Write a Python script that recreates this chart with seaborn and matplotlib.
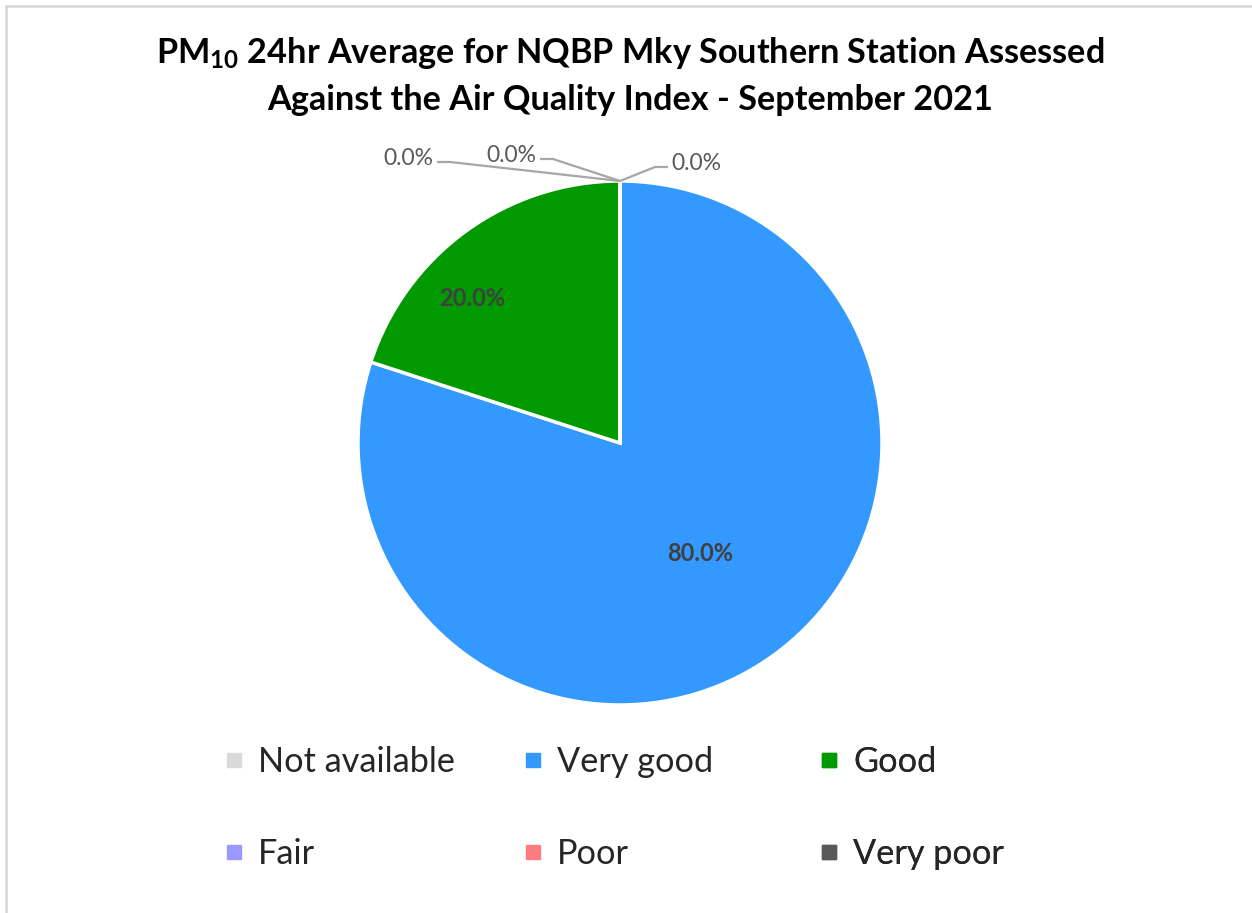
import matplotlib
matplotlib.use("Agg")
import matplotlib.pyplot as plt
from matplotlib.lines import Line2D
from matplotlib.patches import Rectangle
import numpy as np
import seaborn as sns

categories = ["Not available", "Very good", "Good", "Fair", "Poor", "Very poor"]
shares = [0.0, 80.0, 20.0, 0.0, 0.0, 0.0]
colours = ["#D9D9D9", "#3399FF", "#009900", "#9999FF", "#FF7C80", "#595959"]
title = "PM$_\\mathbf{10}$ 24hr Average for NQBP Mky Southern Station Assessed\nAgainst the Air Quality Index - September 2021"

sns.set_style("white")
plt.rcParams["font.family"] = ["Lato", "DejaVu Sans"]
plt.rcParams["mathtext.fontset"] = "custom"
plt.rcParams["mathtext.bf"] = "Lato:bold"
plt.rcParams["mathtext.rm"] = "Lato"

W, H = 1252, 913
fig = plt.figure(figsize=(W / 100, H / 100), dpi=100)
ax = fig.add_axes([0, 0, 1, 1])

cx, cy, r = 620, H - 443, 262
wedges, _ = ax.pie(shares, colors=colours, startangle=90, counterclock=False,
                   center=(cx, cy), radius=r,
                   wedgeprops=dict(edgecolor="white", linewidth=2.5))
ax.set_xlim(0, W)
ax.set_ylim(0, H)
ax.set_aspect("equal")
ax.axis("off")

# chart border
fig.patches.append(Rectangle((6 / W, -0.1), 1.2, 1.1 - 6 / H,
                             transform=fig.transFigure, fill=False,
                             edgecolor="#D9D9D9", linewidth=2))

ax.text(630, H - 75, title, ha="center", va="center", fontsize=24.7,
        fontweight="bold", linespacing=1.5, color="black")

# big labels
def polar(angle, dist):
    a = np.deg2rad(angle)
    return cx + dist * r * np.cos(a), cy + dist * r * np.sin(a)

big = {1: (None, 0.52), 2: (135.6, 0.79)}
for i, (ang, dist) in big.items():
    w = wedges[i]
    if ang is None:
        ang = (w.theta1 + w.theta2) / 2
    x, y = polar(ang, dist)
    ax.text(x, y, f"{shares[i]:.1f}%", ha="center", va="center", fontsize=17,
            fontweight="bold", color="#404040")

# zero labels with leader lines: (category index, corner offset, text side)
top = (cx, cy + r)
zero = [(0, (35, 14), "left"), (3, (-67, 22), "right"), (4, (-170, 19), "right")]
for i, (dx, dy), side in zero:
    corner = (top[0] + dx, top[1] + dy)
    end = corner[0] + (13 if side == "left" else -13)
    ax.plot([top[0], corner[0], end], [top[1], corner[1], corner[1]],
            color="#A6A6A6", lw=1.6, solid_capstyle="butt")
    tx = end + (3 if side == "left" else -4)
    ax.text(tx, corner[1] + 4, f"{shares[i]:.1f}%", ha=side, va="center",
            fontsize=16.5, color="#595959")

# legend: three columns of two
handles = [Line2D([], [], marker="s", linestyle="", markersize=9.5,
                  color=c) for c in colours]
col_x = [224, 523, 819]
for k, x in enumerate(col_x):
    idx = [k, k + 3]
    leg = ax.legend([handles[j] for j in idx], [categories[j] for j in idx],
                    loc="upper left", bbox_to_anchor=(x / W, (H - 746) / H),
                    bbox_transform=fig.transFigure, frameon=False,
                    fontsize=24.7, handlelength=0.6, handletextpad=0.4,
                    labelspacing=1.75, borderpad=0, borderaxespad=0)
    ax.add_artist(leg)

fig.savefig("out.png", dpi=100)
